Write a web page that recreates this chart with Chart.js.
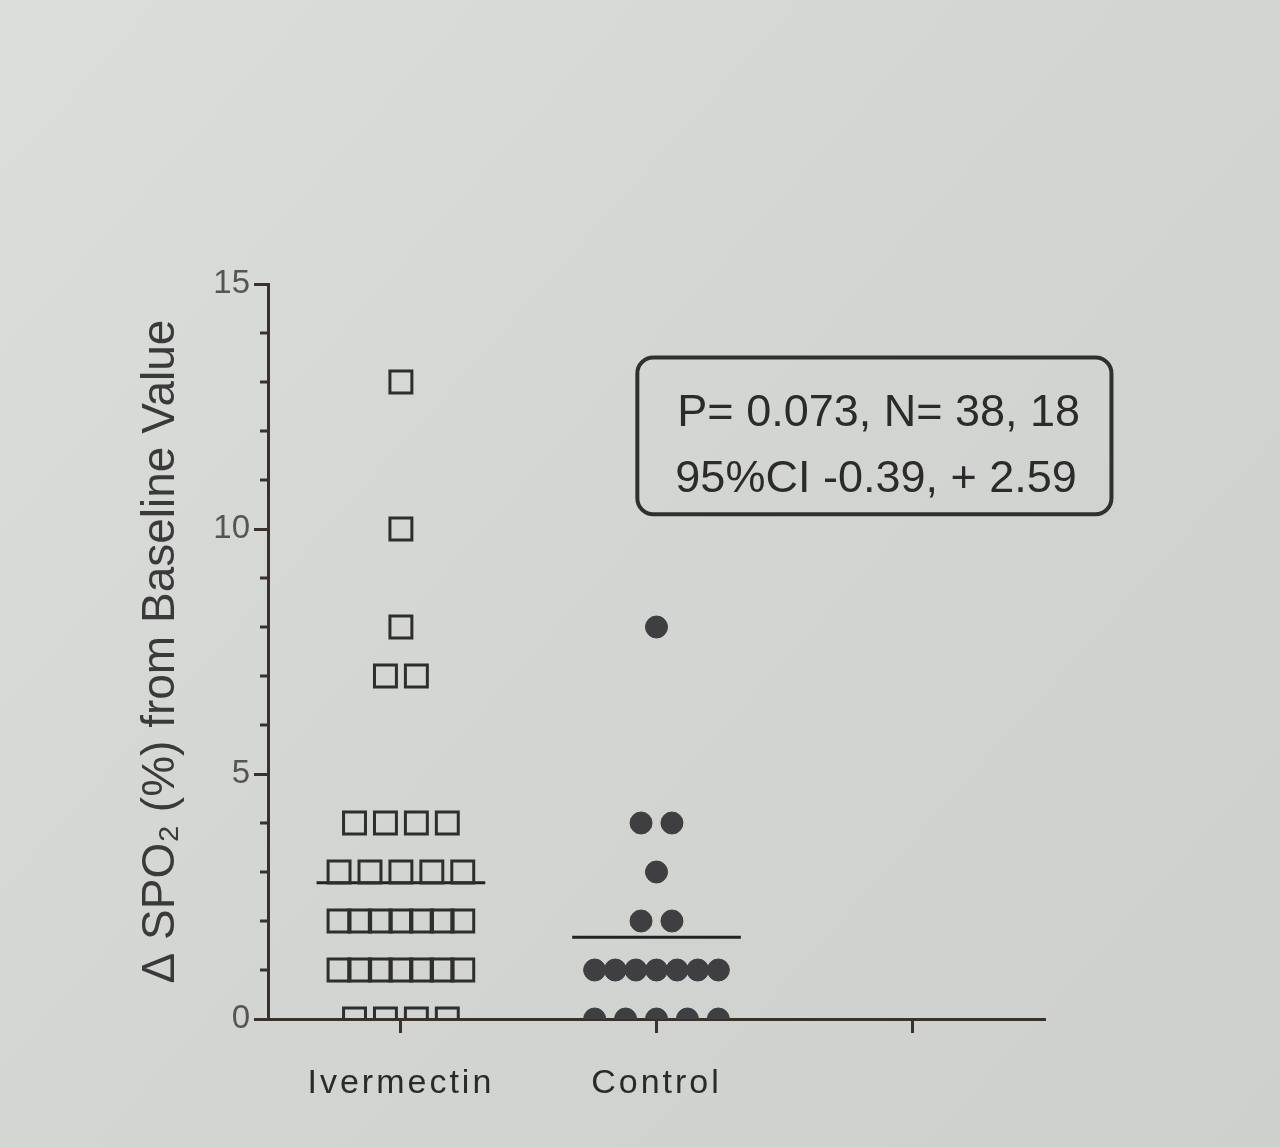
<!DOCTYPE html>
<html><head><meta charset="utf-8">
<script src="https://cdn.jsdelivr.net/npm/chart.js@4.4.1/dist/chart.umd.min.js"></script>
<style>html,body{margin:0;padding:0;background:#d4d6d3;}#wrap{width:1280px;height:1147px;}</style>
</head><body><div id="wrap"><canvas id="c" width="1280" height="1147"></canvas></div>
<script>
// ---- data ----
const categories = ['Ivermectin', 'Control', ''];
const ivermectinValues = [13, 10, 8, 7, 7, 4, 4, 4, 4, 3, 3, 3, 3, 3, 2, 2, 2, 2, 2, 2, 2, 1, 1, 1, 1, 1, 1, 1, 0, 0, 0, 0];
const controlValues = [8, 4, 4, 3, 2, 2, 1, 1, 1, 1, 1, 1, 1, 0, 0, 0, 0, 0];
const groupMeans = [2.78, 1.67];
const yMajorTicks = [0, 5, 10, 15];
const statLines = ['P= 0.073, N= 38, 18', '95%CI -0.39, + 2.59'];
const yTitle = 'Δ SPO₂ (%) from Baseline Value';

// spread points sharing a value horizontally around the category centre
function spread(values, catIndex) {
  const groups = {};
  values.forEach(v => { (groups[v] = groups[v] || []).push(v); });
  const pts = [];
  Object.keys(groups).forEach(k => {
    const n = groups[k].length;
    const step = n > 1 ? Math.min(0.121, 0.484 / (n - 1)) : 0;
    groups[k].forEach((v, i) => pts.push({ x: catIndex + (i - (n - 1) / 2) * step, y: v }));
  });
  return pts;
}
const meanHalf = 0.33;
function meanLine(i) { return [{ x: i - meanHalf, y: groupMeans[i] }, { x: i + meanHalf, y: groupMeans[i] }]; }

const FONT = "'Liberation Sans', Arial, sans-serif";
const AXIS = '#3a302c';

const bgPlugin = {
  id: 'bg',
  beforeDraw(chart) {
    const { ctx, width, height } = chart;
    const g = ctx.createLinearGradient(0, 0, width, height);
    g.addColorStop(0, '#dcdedc');
    g.addColorStop(0.5, '#d3d5d2');
    g.addColorStop(1, '#cdd0cc');
    ctx.save(); ctx.fillStyle = g; ctx.fillRect(0, 0, width, height); ctx.restore();
  },
  afterLayout(chart) {
    const xs = chart.scales.x;
    if (xs && !xs._lsPatched) {
      const orig = xs.drawLabels.bind(xs);
      xs.drawLabels = function (area) {
        const ctx = this.ctx; ctx.save(); ctx.letterSpacing = '3px'; orig(area); ctx.restore();
      };
      xs._lsPatched = true;
    }
  }
};

const decorPlugin = {
  id: 'decor',
  afterDraw(chart) {
    const { ctx } = chart;
    const y = chart.scales.y, x = chart.scales.x;
    // minor ticks on y axis
    ctx.save();
    ctx.strokeStyle = AXIS; ctx.lineWidth = 3;
    for (let v = 0; v <= 15; v++) {
      if (yMajorTicks.includes(v)) continue;
      const py = y.getPixelForValue(v);
      ctx.beginPath(); ctx.moveTo(x.left - 8, py); ctx.lineTo(x.left, py); ctx.stroke();
    }
    ctx.restore();
    // statistics box
    const bx1 = x.getPixelForValue(0.925), bx2 = x.getPixelForValue(2.78);
    const by1 = y.getPixelForValue(13.5), by2 = y.getPixelForValue(10.3);
    ctx.save();
    ctx.strokeStyle = '#303030'; ctx.lineWidth = 4;
    ctx.beginPath(); ctx.roundRect(bx1, by1, bx2 - bx1, by2 - by1, 16); ctx.stroke();
    ctx.fillStyle = '#2b2b2b'; ctx.font = '45px ' + FONT; ctx.textBaseline = 'alphabetic';
    ctx.fillText(statLines[0], bx1 + 40, by1 + 68);
    ctx.fillText(statLines[1], bx1 + 38, by1 + 134);
    ctx.restore();
  }
};

new Chart(document.getElementById('c'), {
  type: 'scatter',
  data: {
    datasets: [
      { label: 'Ivermectin', data: spread(ivermectinValues, 0), pointStyle: 'rect', pointRadius: 15.5,
        pointBackgroundColor: 'rgba(0,0,0,0)', pointBorderColor: '#2e2e2e', pointBorderWidth: 3, clip: 0 },
      { label: 'Control', data: spread(controlValues, 1), pointStyle: 'circle', pointRadius: 11,
        pointBackgroundColor: '#3f3f42', pointBorderColor: '#3f3f42', pointBorderWidth: 1, clip: 0 },
      { type: 'line', label: 'mean I', data: meanLine(0), borderColor: '#222', borderWidth: 3, pointRadius: 0 },
      { type: 'line', label: 'mean C', data: meanLine(1), borderColor: '#222', borderWidth: 3, pointRadius: 0 }
    ]
  },
  options: {
    responsive: false, animation: false, devicePixelRatio: 1,
    layout: { padding: { top: 284, right: 235, left: 0, bottom: 0 } },
    plugins: { legend: { display: false }, tooltip: { enabled: false } },
    scales: {
      x: {
        type: 'linear', min: -0.52, max: 2.52,
        afterFit(s) { s.height = 128; },
        afterBuildTicks(s) { s.ticks = categories.map((c, i) => ({ value: i })); },
        ticks: { callback: v => categories[v] ?? '', font: { family: FONT, size: 34 }, color: '#2a2a2a', padding: 30, maxRotation: 0, autoSkip: false },
        grid: { drawOnChartArea: false, tickLength: 14, tickWidth: 3, tickColor: AXIS },
        border: { color: AXIS, width: 3 }
      },
      y: {
        min: 0, max: 15,
        afterFit(s) { s.width = 268; },
        afterBuildTicks(s) { s.ticks = yMajorTicks.map(v => ({ value: v })); },
        ticks: { font: { family: FONT, size: 33 }, color: '#555555', padding: 4 },
        grid: { drawOnChartArea: false, tickLength: 14, tickWidth: 3, tickColor: AXIS },
        border: { color: AXIS, width: 3 },
        title: { display: true, text: yTitle, font: { family: FONT, size: 46 }, color: '#3a3a3a', padding: { top: 134, bottom: 0 } }
      }
    }
  },
  plugins: [bgPlugin, decorPlugin]
});
</script></body></html>
